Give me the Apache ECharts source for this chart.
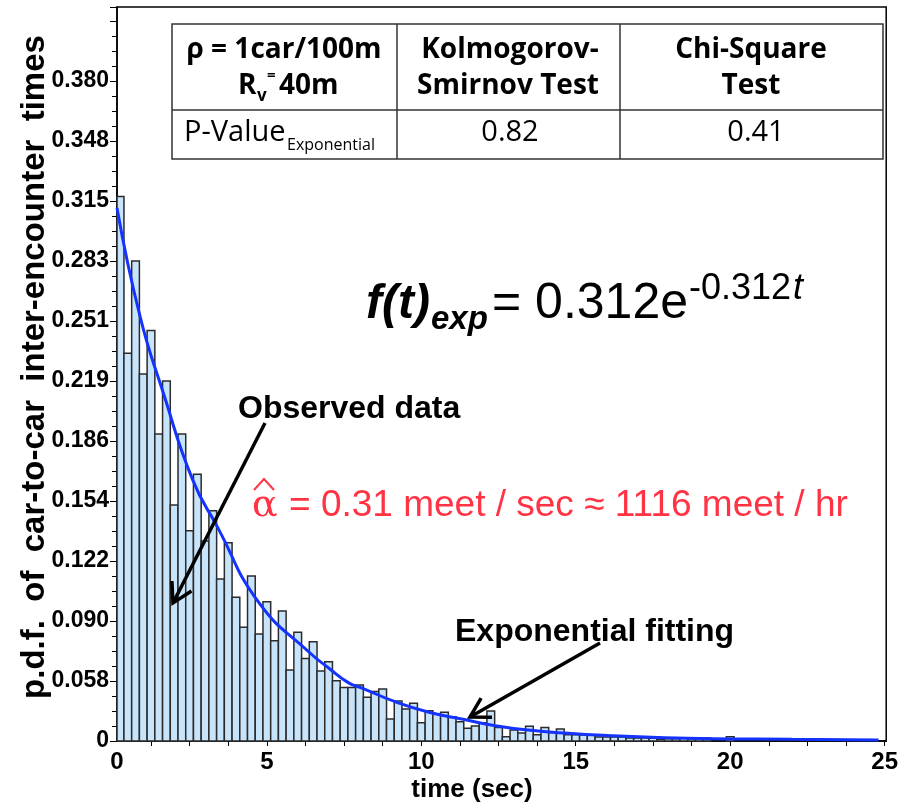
<!DOCTYPE html>
<html>
<head>
<meta charset="utf-8">
<script src="https://cdn.jsdelivr.net/npm/echarts@6/dist/echarts.min.js"></script>
<style>
  html, body { margin: 0; padding: 0; background: #fff; }
  #chart { width: 901px; height: 805px; }
</style>
</head>
<body>
<div id="chart"></div>
<script>
// histogram: bins of 0.25 sec, centred on 0.25, 0.5, ... (p.d.f.)
const binWidth = 0.25
const density = [
  0.313, 0.223, 0.276, 0.211, 0.236, 0.1765, 0.207, 0.1357, 0.1765, 0.1209,
  0.1534, 0.115, 0.1324, 0.0932, 0.114, 0.0826, 0.0654, 0.0949, 0.0615, 0.0801,
  0.0577, 0.0748, 0.0408, 0.0625, 0.0475, 0.0571, 0.0403, 0.0456, 0.0347, 0.0307,
  0.0307, 0.0322, 0.0251, 0.0284, 0.0299, 0.0127, 0.023, 0.0184, 0.0217, 0.0105,
  0.0174, 0.0155, 0.0165, 0.014, 0.0111, 0.0073, 0.0086, 0.0105, 0.0173, 0.0077,
  0.0025, 0.0063, 0.0046, 0.0085, 0.0036, 0.0077, 0.0049, 0.0069, 0.0036, 0.0036,
  0.0035, 0.0033, 0.0023, 0.0023, 0.0023, 0.0023, 0.0017, 0.0017, 0.0017, 0.0016,
  0.001, 0.0013, 0.0013, 0.0017, 0.0013, 0.0017, 0.0017, 0, 0, 0.0025,
  0, 0, 0, 0, 0, 0, 0, 0, 0, 0,
  0, 0, 0, 0, 0, 0, 0, 0, 0
]

// exponential fitting curve
const curveTime = [0.15, 0.9, 1.65, 2.6, 3.4, 4.75, 6.4, 7.0, 7.65, 8.1, 9.15, 10.25, 11.35, 12.4, 13.45, 14.75, 16.15, 17.45, 19.4, 22, 24.8]
const curveValue = [0.3065, 0.2438, 0.2001, 0.1501, 0.1231, 0.0794, 0.0506, 0.042, 0.0334, 0.0303, 0.0226, 0.0165, 0.0125, 0.0088, 0.0063, 0.0044, 0.003, 0.0021, 0.0013, 0.001, 0.0006]

// axis labels as printed
const yTickLabels = ['0', '0.058', '0.090', '0.122', '0.154', '0.186', '0.219', '0.251', '0.283', '0.315', '0.348', '0.380', '']
const xTickLabels = [0, 5, 10, 15, 20, 25]

const yStep = 0.0345
const xMin = 0.15
const xMax = 25.05

const bars = density.map((v, i) => {
  const c = (i + 1) * binWidth
  return [c - binWidth / 2, c + binWidth / 2, v]
})
const curve = curveTime.map((t, i) => [t, curveValue[i]])

const xTicks = []
for (let t = 1.25; t <= 25.001; t += 1.25) xTicks.push(t)
const xLabelPos = xTickLabels.map(v => Math.max(v, xMin))

const sans = '"Liberation Sans", Arial, sans-serif'
const tbl = '"Open Sans", "Noto Sans", sans-serif'
const red = '#ff3344'

// arrow: shaft plus open head
function arrow(x1, y1, x2, y2) {
  const a = Math.atan2(y1 - y2, x1 - x2)
  const len = 22, sp = Math.PI / 6
  const p1 = [x2 + len * Math.cos(a + sp), y2 + len * Math.sin(a + sp)]
  const p2 = [x2 + len * Math.cos(a - sp), y2 + len * Math.sin(a - sp)]
  const st = { stroke: '#000', lineWidth: 3.5, fill: null }
  return [
    { type: 'line', shape: { x1, y1, x2, y2 }, style: st, z: 100 },
    { type: 'polyline', shape: { points: [p1, [x2, y2], p2] }, style: st, z: 100 }
  ]
}

function txt(text, x, y, font, extra) {
  return {
    type: 'text', x, y, z: 100,
    style: Object.assign({ text, fill: '#000', font, align: 'left', verticalAlign: 'middle' }, extra || {})
  }
}

const hFont = 'bold 28px ' + tbl
const nFont = '29px ' + tbl
const line = (x1, y1, x2, y2) => ({ type: 'line', shape: { x1, y1, x2, y2 }, style: { stroke: '#333', lineWidth: 1.5 }, z: 91 })

const yTitle = txt('p.d.f.  of  car-to-car  inter-encounter  times', 35, 367, 'bold 33px ' + sans, { align: 'center' })
yTitle.rotation = Math.PI / 2

const graphics = [
  // table
  { type: 'rect', shape: { x: 172, y: 24, width: 711, height: 135 }, style: { fill: '#fff', stroke: '#333', lineWidth: 1.5 }, z: 90 },
  line(172, 110, 883, 110),
  line(397, 24, 397, 159),
  line(620, 24, 620, 159),
  txt('ρ = 1car/100m', 284, 50, hFont, { align: 'center' }),
  txt('R', 238, 86, hFont),
  txt('v', 257, 96, 'bold 17px ' + tbl),
  txt('=', 267, 76, 'bold 15px ' + tbl),
  txt('40m', 279, 86, hFont),
  txt('Kolmogorov-', 510, 50, hFont, { align: 'center' }),
  txt('Smirnov Test', 508, 86, hFont, { align: 'center' }),
  txt('Chi-Square', 751, 50, hFont, { align: 'center' }),
  txt('Test', 751, 86, hFont, { align: 'center' }),
  txt('P-Value', 184, 133, nFont),
  txt('Exponential', 287, 145, '16px ' + tbl),
  txt('0.82', 510, 133, nFont, { align: 'center' }),
  txt('0.41', 756, 133, nFont, { align: 'center' }),

  // fitted formula
  txt('f(t)', 366, 305, 'italic bold 48px ' + sans),
  txt('exp', 431, 320, 'italic bold 33px ' + sans),
  txt('= 0.312e', 492, 304, '50px ' + sans),
  txt('-0.312', 689, 289, '36px ' + sans),
  txt('t', 793, 289, 'italic 36px ' + sans),

  // annotations
  txt('Observed data', 238, 409, 'bold 32px ' + sans),
  txt('Exponential fitting', 455, 632, 'bold 32px ' + sans),
  txt('α', 252, 506, '38px "DejaVu Serif", serif', { fill: red }),
  { type: 'polyline', shape: { points: [[254, 490], [264, 479], [274, 490]] }, style: { stroke: red, lineWidth: 2, fill: null }, z: 100 },
  txt('= 0.31 meet / sec ≈ 1116 meet / hr', 289, 506, '37px ' + sans, { fill: red }),
  ...arrow(265, 423, 173, 603),
  ...arrow(600, 643, 470, 717),

  // axis titles
  yTitle,
  txt('time (sec)', 472, 790, 'bold 26px ' + sans, { align: 'center' })
]

const chart = echarts.init(document.getElementById('chart'))
chart.setOption({
  animation: false,
  backgroundColor: '#fff',
  grid: { left: 117, right: 12, top: 7, bottom: 64, show: true, borderColor: '#000', borderWidth: 1.5, backgroundColor: 'transparent' },
  xAxis: {
    type: 'value',
    min: xMin,
    max: xMax,
    axisLine: { onZero: false, lineStyle: { color: '#000', width: 1.5 } },
    axisTick: { show: true, length: 5, customValues: xTicks, lineStyle: { color: '#000' } },
    axisLabel: {
      customValues: xLabelPos,
      formatter: v => String(Math.round(v)),
      color: '#000', fontFamily: sans, fontWeight: 'bold', fontSize: 24, margin: 9
    },
    splitLine: { show: false }
  },
  yAxis: {
    type: 'value',
    min: 0,
    max: 0.422,
    interval: yStep,
    axisLine: { show: true, lineStyle: { color: '#000', width: 1.5 } },
    axisTick: { show: true, length: 7, lineStyle: { color: '#000' } },
    minorTick: { show: true, splitNumber: 4, length: 5, lineStyle: { color: '#000' } },
    axisLabel: {
      formatter: v => yTickLabels[Math.round(v / yStep)] || '',
      color: '#000', fontFamily: sans, fontWeight: 'bold', fontSize: 23, margin: 8
    },
    splitLine: { show: false }
  },
  series: [
    {
      type: 'custom',
      name: 'Observed data',
      data: bars,
      renderItem(params, api) {
        const v = api.value(2)
        if (!v) return null
        const p0 = api.coord([api.value(0), v])
        const p1 = api.coord([api.value(1), 0])
        const shape = echarts.graphic.clipRectByRect(
          { x: p0[0], y: p0[1], width: p1[0] - p0[0], height: p1[1] - p0[1] },
          { x: params.coordSys.x, y: params.coordSys.y, width: params.coordSys.width, height: params.coordSys.height }
        )
        if (!shape) return null
        return { type: 'rect', shape, style: { fill: '#c8e4fa', stroke: '#2b2b2b', lineWidth: 1.5 } }
      },
      z: 2
    },
    {
      type: 'line',
      name: 'Exponential fitting',
      data: curve,
      smooth: true,
      showSymbol: false,
      lineStyle: { color: '#1533ff', width: 3 },
      z: 3
    }
  ],
  graphic: graphics
})
</script>
</body>
</html>
